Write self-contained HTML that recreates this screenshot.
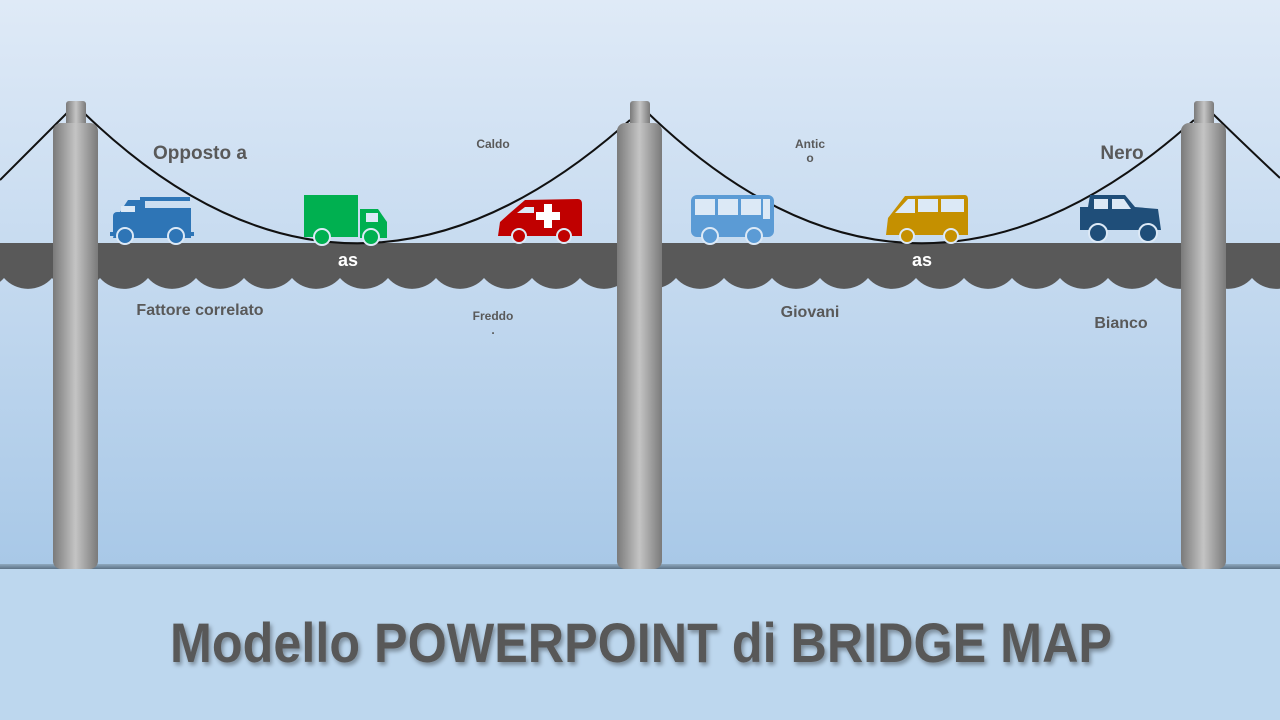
<!DOCTYPE html>
<html><head><meta charset="utf-8"><style>
html,body{margin:0;padding:0;width:1280px;height:720px;overflow:hidden}
svg{display:block}
text{font-family:"Liberation Sans",sans-serif;font-weight:bold}
</style></head><body>
<svg width="1280" height="720" viewBox="0 0 1280 720" xmlns="http://www.w3.org/2000/svg">
<defs>
<linearGradient id="bg" x1="0" y1="0" x2="0" y2="1">
<stop offset="0" stop-color="#dfeaf7"/><stop offset="1" stop-color="#a8c8e7"/></linearGradient>
<linearGradient id="pil" x1="0" y1="0" x2="1" y2="0">
<stop offset="0" stop-color="#7a7a7a"/><stop offset="0.5" stop-color="#c4c4c4"/><stop offset="1" stop-color="#7a7a7a"/></linearGradient>
<linearGradient id="gl" x1="0" y1="0" x2="0" y2="1">
<stop offset="0" stop-color="#8fa9c0"/><stop offset="1" stop-color="#5d7286"/></linearGradient>
<filter id="sh" x="-5%" y="-20%" width="110%" height="140%"><feDropShadow dx="2" dy="3" stdDeviation="2" flood-color="#000" flood-opacity="0.35"/></filter>
</defs>
<rect width="1280" height="568" fill="url(#bg)"/>
<rect y="568" width="1280" height="152" fill="#bdd7ee"/>
<rect y="564" width="1280" height="5" fill="url(#gl)"/>

<!-- deck -->
<path fill="#595959" d="M-16 243 L1300 243 L1300 278
A32 32 0 0 1 1252 278 A32 32 0 0 1 1204 278 A32 32 0 0 1 1156 278 A32 32 0 0 1 1108 278
A32 32 0 0 1 1060 278 A32 32 0 0 1 1012 278 A32 32 0 0 1 964 278 A32 32 0 0 1 916 278
A32 32 0 0 1 868 278 A32 32 0 0 1 820 278 A32 32 0 0 1 772 278 A32 32 0 0 1 724 278
A32 32 0 0 1 676 278 A32 32 0 0 1 628 278 A32 32 0 0 1 580 278 A32 32 0 0 1 532 278
A32 32 0 0 1 484 278 A32 32 0 0 1 436 278 A32 32 0 0 1 388 278 A32 32 0 0 1 340 278
A32 32 0 0 1 292 278 A32 32 0 0 1 244 278 A32 32 0 0 1 196 278 A32 32 0 0 1 148 278
A32 32 0 0 1 100 278 A32 32 0 0 1 52 278 A32 32 0 0 1 4 278 A32 32 0 0 1 -44 278 Z"/>

<!-- cables -->
<g fill="none" stroke="#111" stroke-width="2">
<path d="M0 180 Q40 140 68 112"/>
<path d="M84 113 Q350 370 630 120"/>
<path d="M648 113 Q915 370 1194 120"/>
<path d="M1212 113 Q1250 150 1280 178"/>
</g>

<!-- pillars -->
<g fill="url(#pil)">
<rect x="66" y="101" width="20" height="30" rx="3"/><rect x="53" y="123" width="45" height="446" rx="8"/>
<rect x="630" y="101" width="20" height="30" rx="3"/><rect x="617" y="123" width="45" height="446" rx="8"/>
<rect x="1194" y="101" width="20" height="30" rx="3"/><rect x="1181" y="123" width="45" height="446" rx="8"/>
</g>

<!-- fire truck -->
<g fill="#2e75b6">
<rect x="113" y="212" width="30" height="26" rx="4"/><path d="M120 212 L128 200 L145 200 L145 238 L113 238 Z"/>
<rect x="143" y="208" width="48" height="30"/><rect x="140" y="197" width="50" height="4"/>
<rect x="110" y="232" width="84" height="4"/>
<circle cx="125" cy="236" r="8" stroke="#dce9f6" stroke-width="2"/><circle cx="176" cy="236" r="8" stroke="#dce9f6" stroke-width="2"/>
</g>
<rect x="121" y="206" width="14" height="6" fill="#dce9f6"/>
<!-- green truck -->
<g fill="#00b050">
<rect x="304" y="195" width="54" height="42"/><path d="M360 209 L378 209 L387 222 L387 238 L360 238 Z"/>
<circle cx="322" cy="237" r="8" stroke="#dce9f6" stroke-width="2"/><circle cx="371" cy="237" r="8" stroke="#dce9f6" stroke-width="2"/>
</g>
<rect x="366" y="213" width="12" height="9" fill="#dce9f6"/>
<!-- ambulance -->
<g fill="#c00000">
<path d="M510 213 L525 200 L578 199 Q582 199 582 204 L582 236 L498 236 L500 222 Z"/>
<circle cx="519" cy="236" r="7" stroke="#dce9f6" stroke-width="2"/><circle cx="564" cy="236" r="7" stroke="#dce9f6" stroke-width="2"/>
</g>
<path d="M544 204 h8 v8 h8 v8 h-8 v8 h-8 v-8 h-8 v-8 h8z" fill="#fff"/>
<path d="M517 213 L525 207 L534 207 L534 213 Z" fill="#dce9f6"/>
<!-- bus -->
<g fill="#5b9bd5">
<rect x="691" y="195" width="83" height="42" rx="6"/>
<circle cx="710" cy="236" r="8" stroke="#dce9f6" stroke-width="2"/><circle cx="754" cy="236" r="8" stroke="#dce9f6" stroke-width="2"/>
</g>
<g fill="#dce9f6"><rect x="695" y="199" width="20" height="16"/><rect x="718" y="199" width="20" height="16"/><rect x="741" y="199" width="20" height="16"/><rect x="763" y="199" width="7" height="20"/></g>
<!-- van -->
<g fill="#c59000">
<path d="M888 218 L905 196 L965 195 Q968 195 968 200 L968 235 L886 235 Z"/>
<circle cx="907" cy="236" r="7" stroke="#dce9f6" stroke-width="2"/><circle cx="951" cy="236" r="7" stroke="#dce9f6" stroke-width="2"/>
</g>
<g fill="#dce9f6"><path d="M895 213 L908 199 L915 199 L915 213 Z"/><rect x="918" y="199" width="20" height="13"/><rect x="941" y="199" width="23" height="13"/></g>
<!-- jeep -->
<g fill="#1f4e79">
<path d="M1080 207 L1088 207 L1090 195 L1125 195 L1135 207 L1158 209 L1161 230 L1080 230 Z"/>
<circle cx="1098" cy="233" r="9" stroke="#dce9f6" stroke-width="2"/><circle cx="1148" cy="233" r="9" stroke="#dce9f6" stroke-width="2"/>
</g>
<g fill="#dce9f6"><rect x="1094" y="199" width="14" height="10"/><path d="M1112 199 L1124 199 L1131 209 L1112 209 Z"/></g>

<!-- labels -->
<g fill="#595959">
<text x="200" y="159" font-size="19" text-anchor="middle">Opposto a</text>
<text x="493" y="148" font-size="12" text-anchor="middle">Caldo</text>
<text x="810" y="148" font-size="12" text-anchor="middle">Antic</text>
<text x="810" y="162" font-size="12" text-anchor="middle">o</text>
<text x="1122" y="159" font-size="19" text-anchor="middle">Nero</text>
<text x="200" y="315" font-size="16" text-anchor="middle">Fattore correlato</text>
<text x="493" y="320" font-size="12" text-anchor="middle">Freddo</text>
<text x="493" y="334" font-size="12" text-anchor="middle">.</text>
<text x="810" y="317" font-size="16" text-anchor="middle">Giovani</text>
<text x="1121" y="328" font-size="16" text-anchor="middle">Bianco</text>
</g>
<g fill="#fff"><text x="348" y="266" font-size="18" text-anchor="middle">as</text><text x="922" y="266" font-size="18" text-anchor="middle">as</text></g>

<text x="170" y="662" font-size="56" fill="#595959" textLength="942" lengthAdjust="spacingAndGlyphs" filter="url(#sh)">Modello POWERPOINT di BRIDGE MAP</text>
</svg>
</body></html>
